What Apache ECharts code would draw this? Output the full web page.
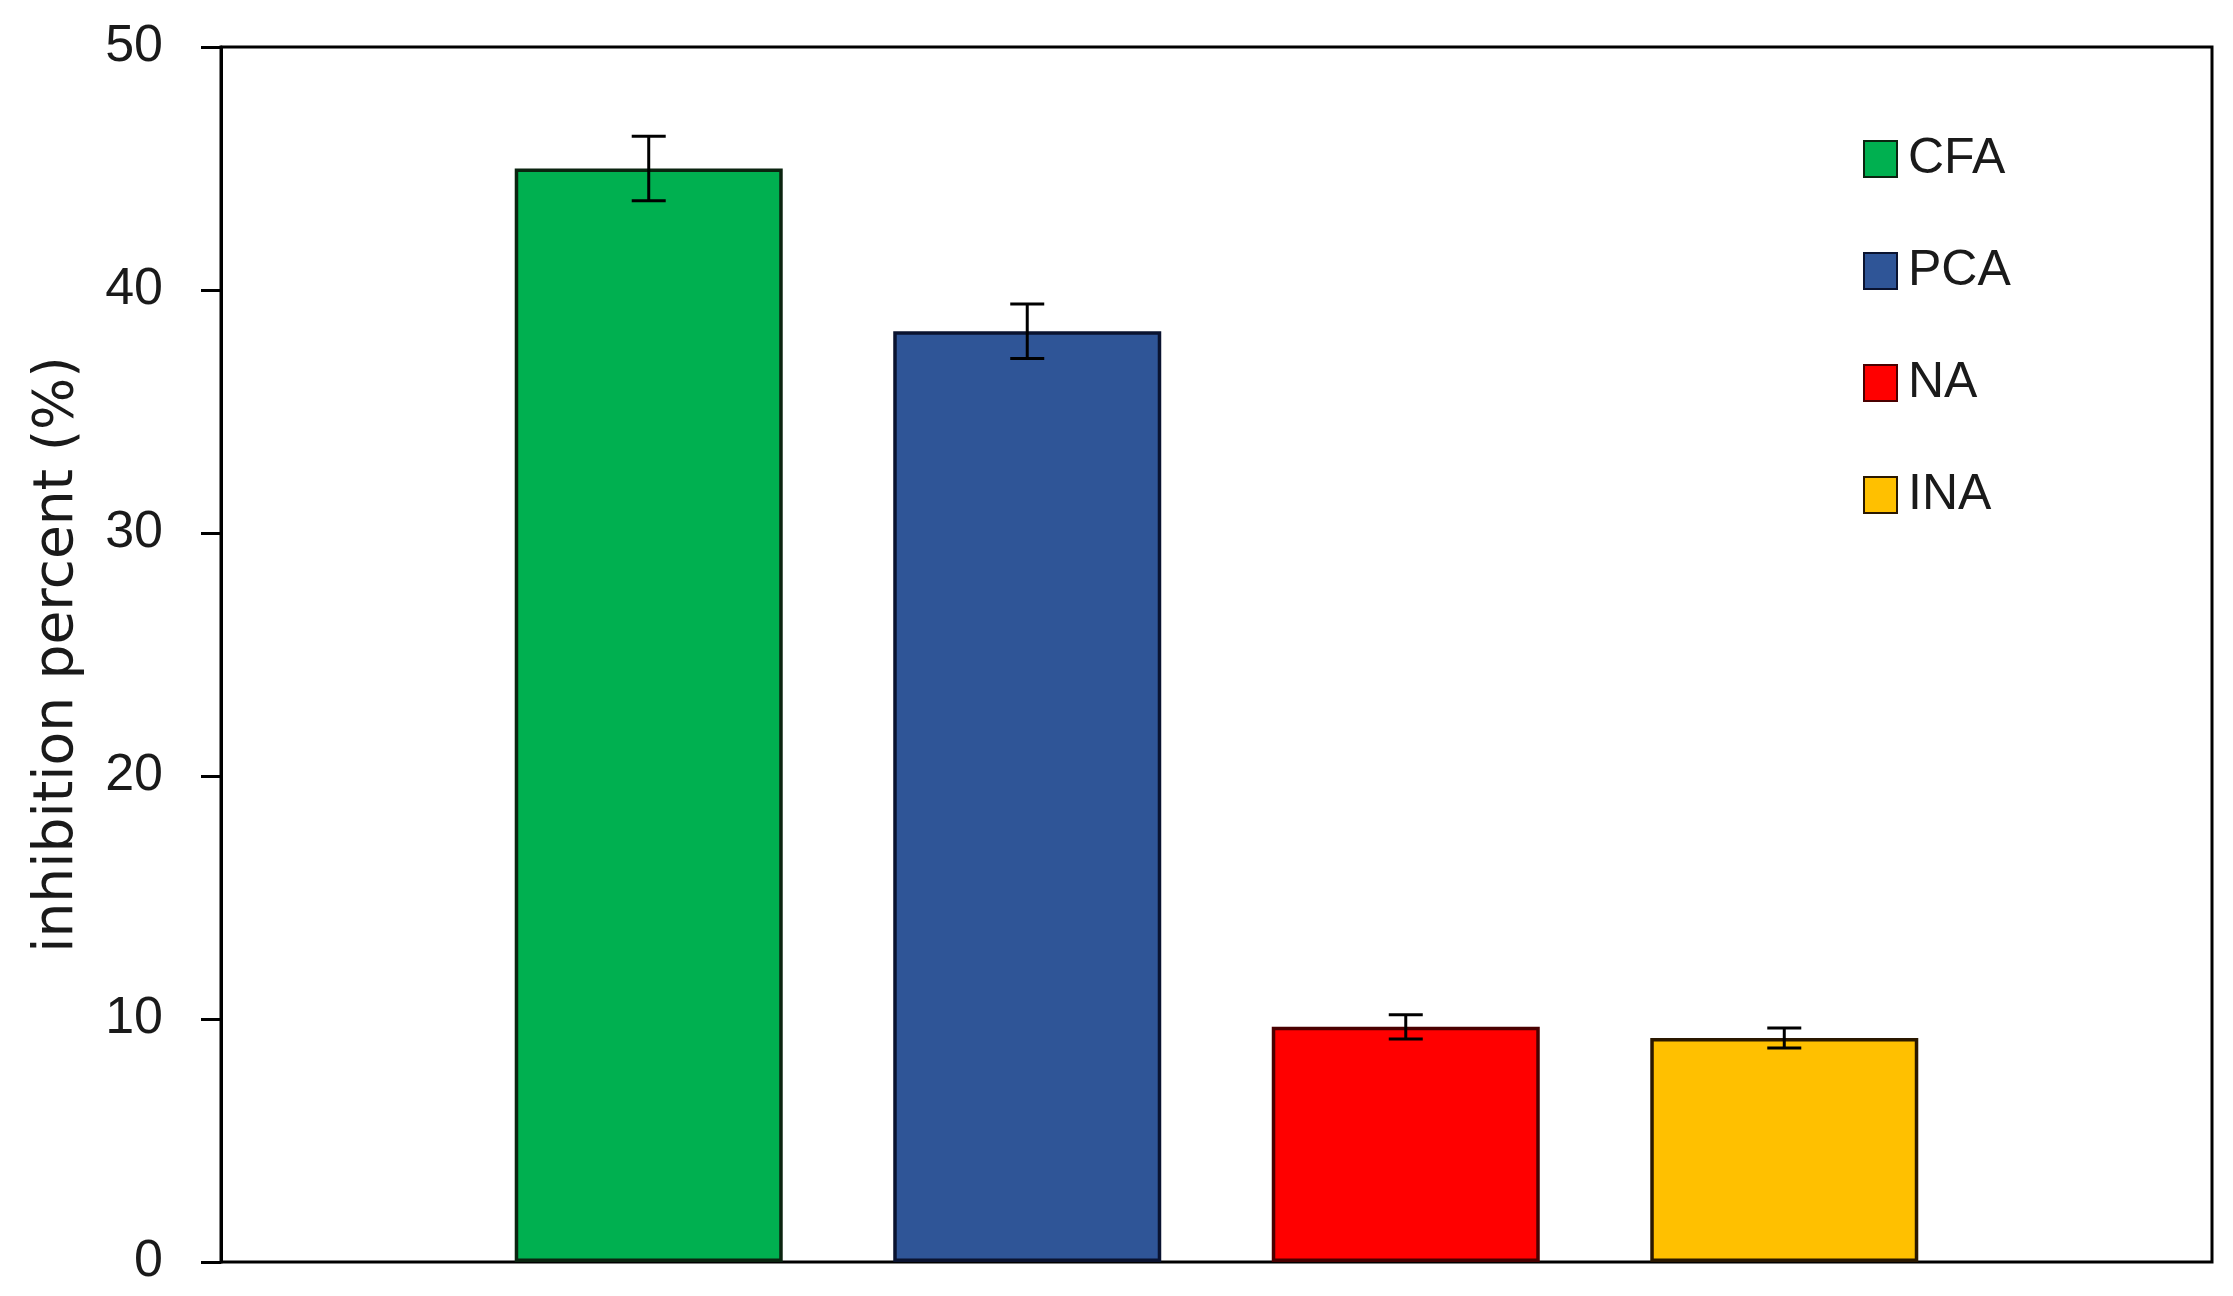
<!DOCTYPE html>
<html>
<head>
<meta charset="utf-8">
<script src="https://cdn.jsdelivr.net/npm/echarts@6/dist/echarts.min.js"></script>
<style>
  html, body { margin: 0; padding: 0; background: #fff; }
  #chart { width: 2233px; height: 1296px; }
</style>
</head>
<body>
<div id="chart"></div>
<script>
// 数据
const categories = ['CFA', 'PCA', 'NA', 'INA']
const values = [45.0, 38.3, 9.68, 9.22]
const errors = [1.33, 1.12, 0.5, 0.41]
const yTicks = [0, 10, 20, 30, 40, 50]

const fillColors = ['#00B050', '#2F5597', '#FF0000', '#FFC000']
const borderColors = ['#0b2410', '#0a1330', '#4a0000', '#2a1800']

const chart = echarts.init(document.getElementById('chart'))

const barSeries = categories.map((name, i) => ({
  name: name,
  type: 'bar',
  barWidth: 268,
  barGap: '-100%',
  data: [[i + 1, values[i]]],
  itemStyle: {
    color: fillColors[i],
    borderColor: borderColors[i],
    borderWidth: 3.5
  },
  z: 2
}))

// 误差线
const errorSeries = {
  type: 'custom',
  name: 'error',
  data: values.map((v, i) => [i + 1, v - errors[i], v + errors[i]]),
  renderItem: function (params, api) {
    const lo = api.coord([api.value(0), api.value(1)])
    const hi = api.coord([api.value(0), api.value(2)])
    const half = 17
    const style = { stroke: '#000', lineWidth: 3 }
    return {
      type: 'group',
      children: [
        { type: 'line', shape: { x1: hi[0], y1: hi[1], x2: lo[0], y2: lo[1] }, style: style },
        { type: 'line', shape: { x1: hi[0] - half, y1: hi[1], x2: hi[0] + half, y2: hi[1] }, style: style },
        { type: 'line', shape: { x1: lo[0] - half, y1: lo[1], x2: lo[0] + half, y2: lo[1] }, style: style }
      ]
    }
  },
  z: 5
}

const option = {
  animation: false,
  backgroundColor: '#fff',
  grid: {
    left: 221,
    right: 21,
    top: 47,
    bottom: 34,
    show: true,
    borderColor: '#000',
    borderWidth: 3
  },
  legend: {
    data: categories,
    orient: 'vertical',
    left: 1858,
    top: 129,
    itemWidth: 33,
    itemHeight: 36,
    itemGap: 62,
    itemTextGap: 16,
    icon: 'rect',
    textStyle: {
      fontFamily: 'Liberation Sans, Arial, sans-serif',
      fontSize: 50,
      lineHeight: 50,
      color: '#1a1a1a',
      padding: [0, 0, 0, 6]
    }
  },
  xAxis: {
    type: 'value',
    min: -0.13,
    max: 5.13,
    axisLine: { show: false },
    axisTick: { show: false },
    axisLabel: { show: false },
    splitLine: { show: false }
  },
  yAxis: {
    type: 'value',
    min: yTicks[0],
    max: yTicks[yTicks.length - 1],
    interval: 10,
    name: 'inhibition percent (%)',
    nameLocation: 'middle',
    nameGap: 136,
    nameTextStyle: {
      fontFamily: 'DejaVu Sans, sans-serif',
      fontSize: 55,
      color: '#1a1a1a'
    },
    axisLine: { show: true, onZero: false, lineStyle: { color: '#000', width: 3 } },
    axisTick: { show: true, inside: false, length: 20, lineStyle: { color: '#000', width: 3 } },
    axisLabel: {
      margin: 58,
      fontFamily: 'Liberation Sans, Arial, sans-serif',
      fontSize: 52,
      color: '#1a1a1a'
    },
    splitLine: { show: false }
  },
  series: [...barSeries, errorSeries]
}

chart.setOption(option)
</script>
</body>
</html>
